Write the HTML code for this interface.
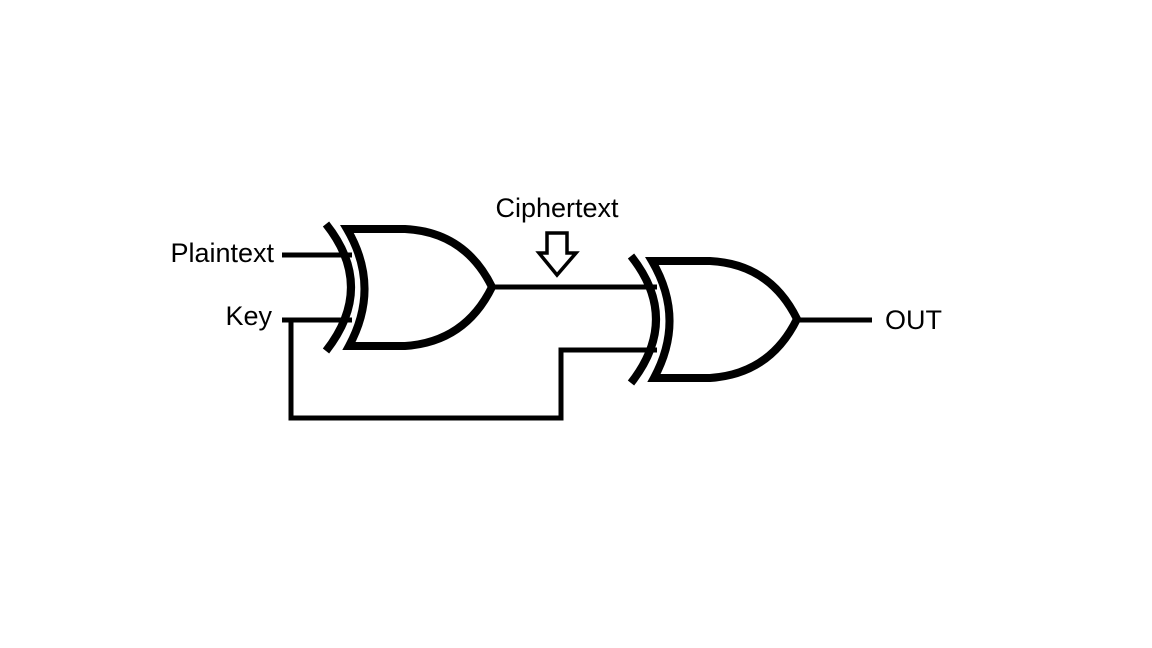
<!DOCTYPE html>
<html><head><style>html,body{margin:0;padding:0;background:#fff;}svg{display:block}</style></head>
<body>
<svg width="1152" height="648" viewBox="0 0 1152 648" xmlns="http://www.w3.org/2000/svg">
<defs>
<g id="xor" fill="none" stroke="#000" stroke-width="8">
  <path d="M326,224 Q376,287 326,351"/>
  <path d="M347,229 L405,229 Q465,232 492,287 Q465,342 405,346 L349,346 Q381,287 347,229 Z" stroke-linejoin="miter"/>
</g>
</defs>
<g stroke="#000" stroke-width="5" fill="none">
  <line x1="282" y1="255" x2="352" y2="255"/>
  <line x1="282" y1="320" x2="352" y2="320"/>
  <polyline points="291,318 291,418 561,418 561,350 657,350"/>
  <line x1="490" y1="287" x2="657" y2="287"/>
  <line x1="795" y1="320" x2="872" y2="320"/>
</g>
<use href="#xor"/>
<use href="#xor" transform="translate(305,32)"/>
<path d="M547,233 L567,233 L567,253 L576,253 L557,275 L539,253 L547,253 Z" fill="#fff" stroke="#000" stroke-width="3.5"/>
<g font-family="Liberation Sans, sans-serif" font-size="27" fill="#000">
  <text x="274" y="262" text-anchor="end">Plaintext</text>
  <text x="272" y="325" text-anchor="end">Key</text>
  <text x="557" y="217" text-anchor="middle">Ciphertext</text>
  <text x="885" y="329">OUT</text>
</g>
</svg>
</body></html>
